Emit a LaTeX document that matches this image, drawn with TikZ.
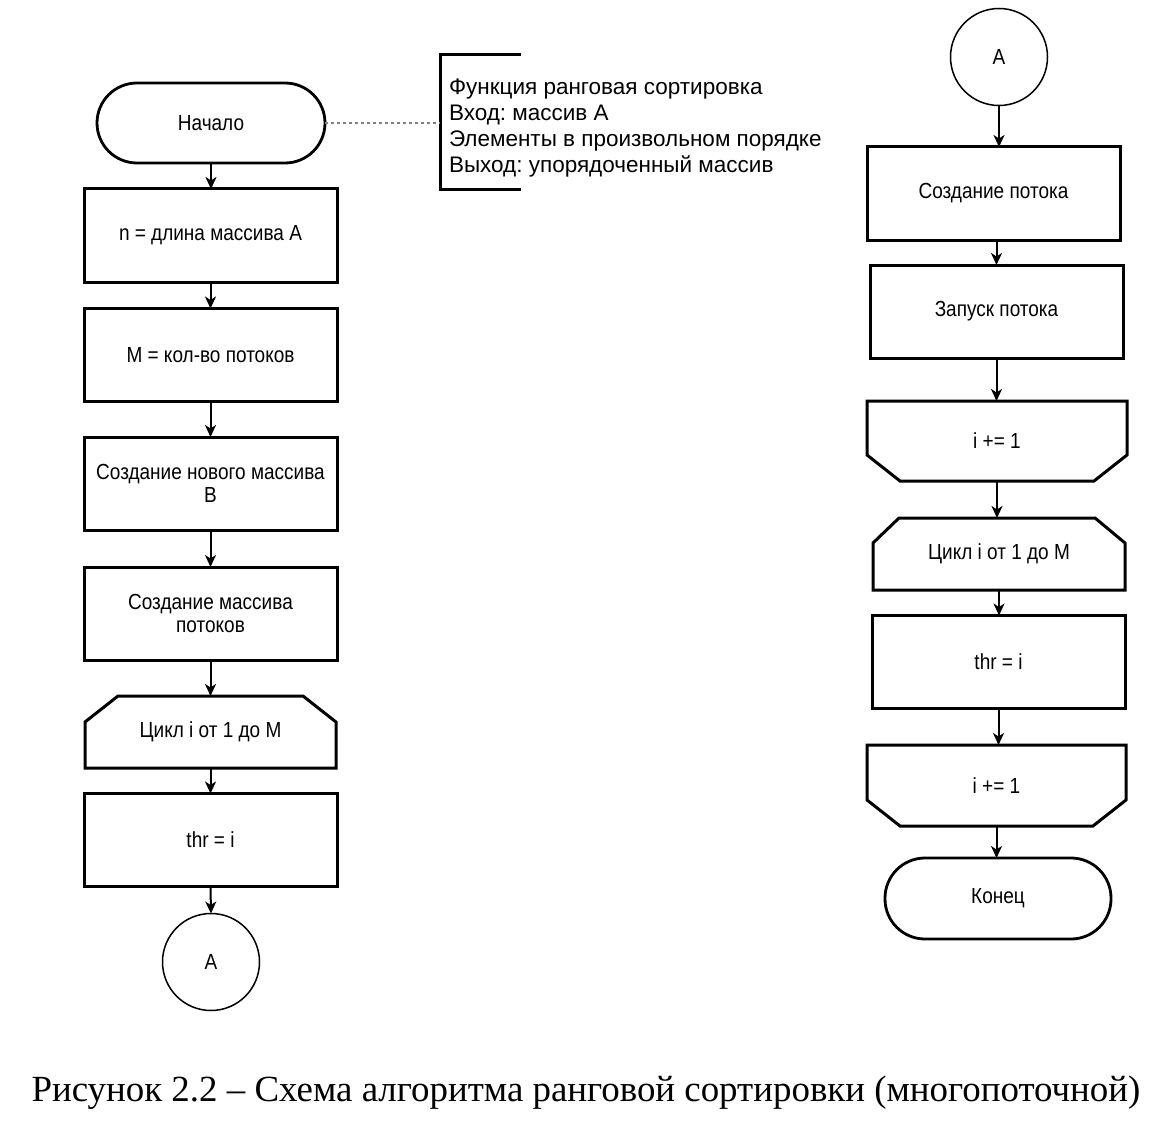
\documentclass[tikz,border=0pt]{standalone}
\usepackage{fontspec}
\setmainfont{Liberation Serif}
\newfontfamily\arialf{Liberation Sans}
\usetikzlibrary{arrows.meta,calc}
\newcommand{\vs}[1]{\scalebox{1}[1.15]{#1}}
\frenchspacing
\begin{document}
\begin{tikzpicture}[x=1pt,y=-1pt,
  every node/.style={inner sep=0pt, outer sep=0pt, align=center},
  boxfont/.style={font=\arialf\fontsize{19}{23}\selectfont},
  proc/.style={boxfont, draw, line width=3pt, minimum width=253pt, minimum height=93pt},
  term/.style={boxfont, draw, line width=2.8pt, rounded corners=40pt, minimum width=228pt, minimum height=80pt},
  conn/.style={boxfont, circle, draw, line width=1.5pt, minimum size=97pt},
  loopshape/.style={boxfont, minimum width=252pt, minimum height=72pt},
  shapeline/.style={line width=3pt, line join=miter},
  arr/.style={line width=2pt, -{Stealth[length=12pt,width=11pt,inset=3.5pt]}},
]
\useasboundingbox (0,0) rectangle (1164,1126);

% ---------- left column ----------
\node[term] (start) at (211,123) {\vs{Начало}};
\node[proc] (n1) at (210.5,235.5) {\vs{n = длина массива A}};
\node[proc] (n2) at (210.5,355) {\vs{M = кол-во потоков}};
\node[proc] (n3) at (210.5,483.5) {\vs{Создание нового массива}\\\vs{B}};
\node[proc] (n4) at (210.5,613.5) {\vs{Создание массива}\\\vs{потоков}};
\node[loopshape, minimum width=251pt] (l1) at (210.5,732) {\vs{Цикл i от 1 до M}};
\draw[shapeline] ($(l1.north west)+(33,0)$) -- ($(l1.north east)+(-33,0)$) -- ($(l1.north east)+(0,26)$)
  -- (l1.south east) -- (l1.south west) -- ($(l1.north west)+(0,26)$) -- cycle;
\node[proc] (n5) at (210.5,840) {\vs{thr = i}};
\node[conn] (ca) at (211,962) {\vs{A}};

\draw[arr] (start.south) -- (start.south |- n1.north);
\draw[arr] (n1.south) -- (n2.north);
\draw[arr] (n2.south) -- (n3.north);
\draw[arr] (n3.south) -- (n4.north);
\draw[arr] (n4.south) -- (l1.north);
\draw[arr] (l1.south) -- (n5.north);
\draw[arr] (n5.south) -- (ca.north);

% ---------- annotation ----------
\coordinate (brt) at (521,55);
\coordinate (brb) at (521,190);
\draw[line width=3pt] (brt) -- (440,55) -- (440,190) -- (brb);
\node[anchor=west, align=left, font=\arialf\fontsize{22.5}{25.7}\selectfont] (note) at (449,128)
  {Функция ранговая сортировка\\Вход: массив A\\Элементы в произвольном порядке\\Выход: упорядоченный массив};
\coordinate (notel) at (440,123);
\draw[line width=2pt, gray, dash pattern=on 3pt off 3pt] (start.east) -- (notel);

% ---------- right column ----------
\node[conn] (cb) at (999,57) {\vs{A}};
\node[proc] (r1) at (993.5,193.5) {\vs{Создание потока}};
\node[proc] (r2) at (996.5,311.5) {\vs{Запуск потока}};
\node[loopshape, minimum width=260pt, minimum height=80pt] (e1) at (997,441) {\vs{i += 1}};
\draw[shapeline] (e1.north west) -- (e1.north east) -- ($(e1.south east)+(0,-26)$) -- ($(e1.south east)+(-33,0)$)
  -- ($(e1.south west)+(33,0)$) -- ($(e1.south west)+(0,-26)$) -- cycle;
\node[loopshape] (l2) at (999,554) {\vs{Цикл i от 1 до M}};
\draw[shapeline] ($(l2.north west)+(26,0)$) -- ($(l2.north east)+(-30,0)$) -- ($(l2.north east)+(0,25)$)
  -- (l2.south east) -- (l2.south west) -- ($(l2.north west)+(0,25)$) -- cycle;
\node[proc] (r3) at (998.5,662) {\vs{thr = i}};
\node[loopshape, minimum width=259pt, minimum height=81pt] (e2) at (996.5,785.5) {\vs{i += 1}};
\draw[shapeline] (e2.north west) -- (e2.north east) -- ($(e2.south east)+(0,-26)$) -- ($(e2.south east)+(-33,0)$)
  -- ($(e2.south west)+(33,0)$) -- ($(e2.south west)+(0,-26)$) -- cycle;
\node[term, minimum width=226pt, minimum height=81pt] (stop) at (998,898.5) {\vs{Конец}};

\draw[arr] (cb.south) -- (cb.south |- r1.north);
\draw[arr] (r2.north |- r1.south) -- (r2.north);
\draw[arr] (r2.south) -- (r2.south |- e1.north);
\draw[arr] (e1.south) -- (e1.south |- l2.north);
\draw[arr] (l2.south) -- (l2.south |- r3.north);
\draw[arr] (r3.south) -- (r3.south |- e2.north);
\draw[arr] (e2.south) -- (e2.south |- stop.north);

% ---------- caption ----------
\node[font=\fontsize{36.9}{42}\selectfont] (cap) at (586,1093)
  {Рисунок 2.2 – Схема алгоритма ранговой сортировки (многопоточной)};
\end{tikzpicture}
\end{document}
